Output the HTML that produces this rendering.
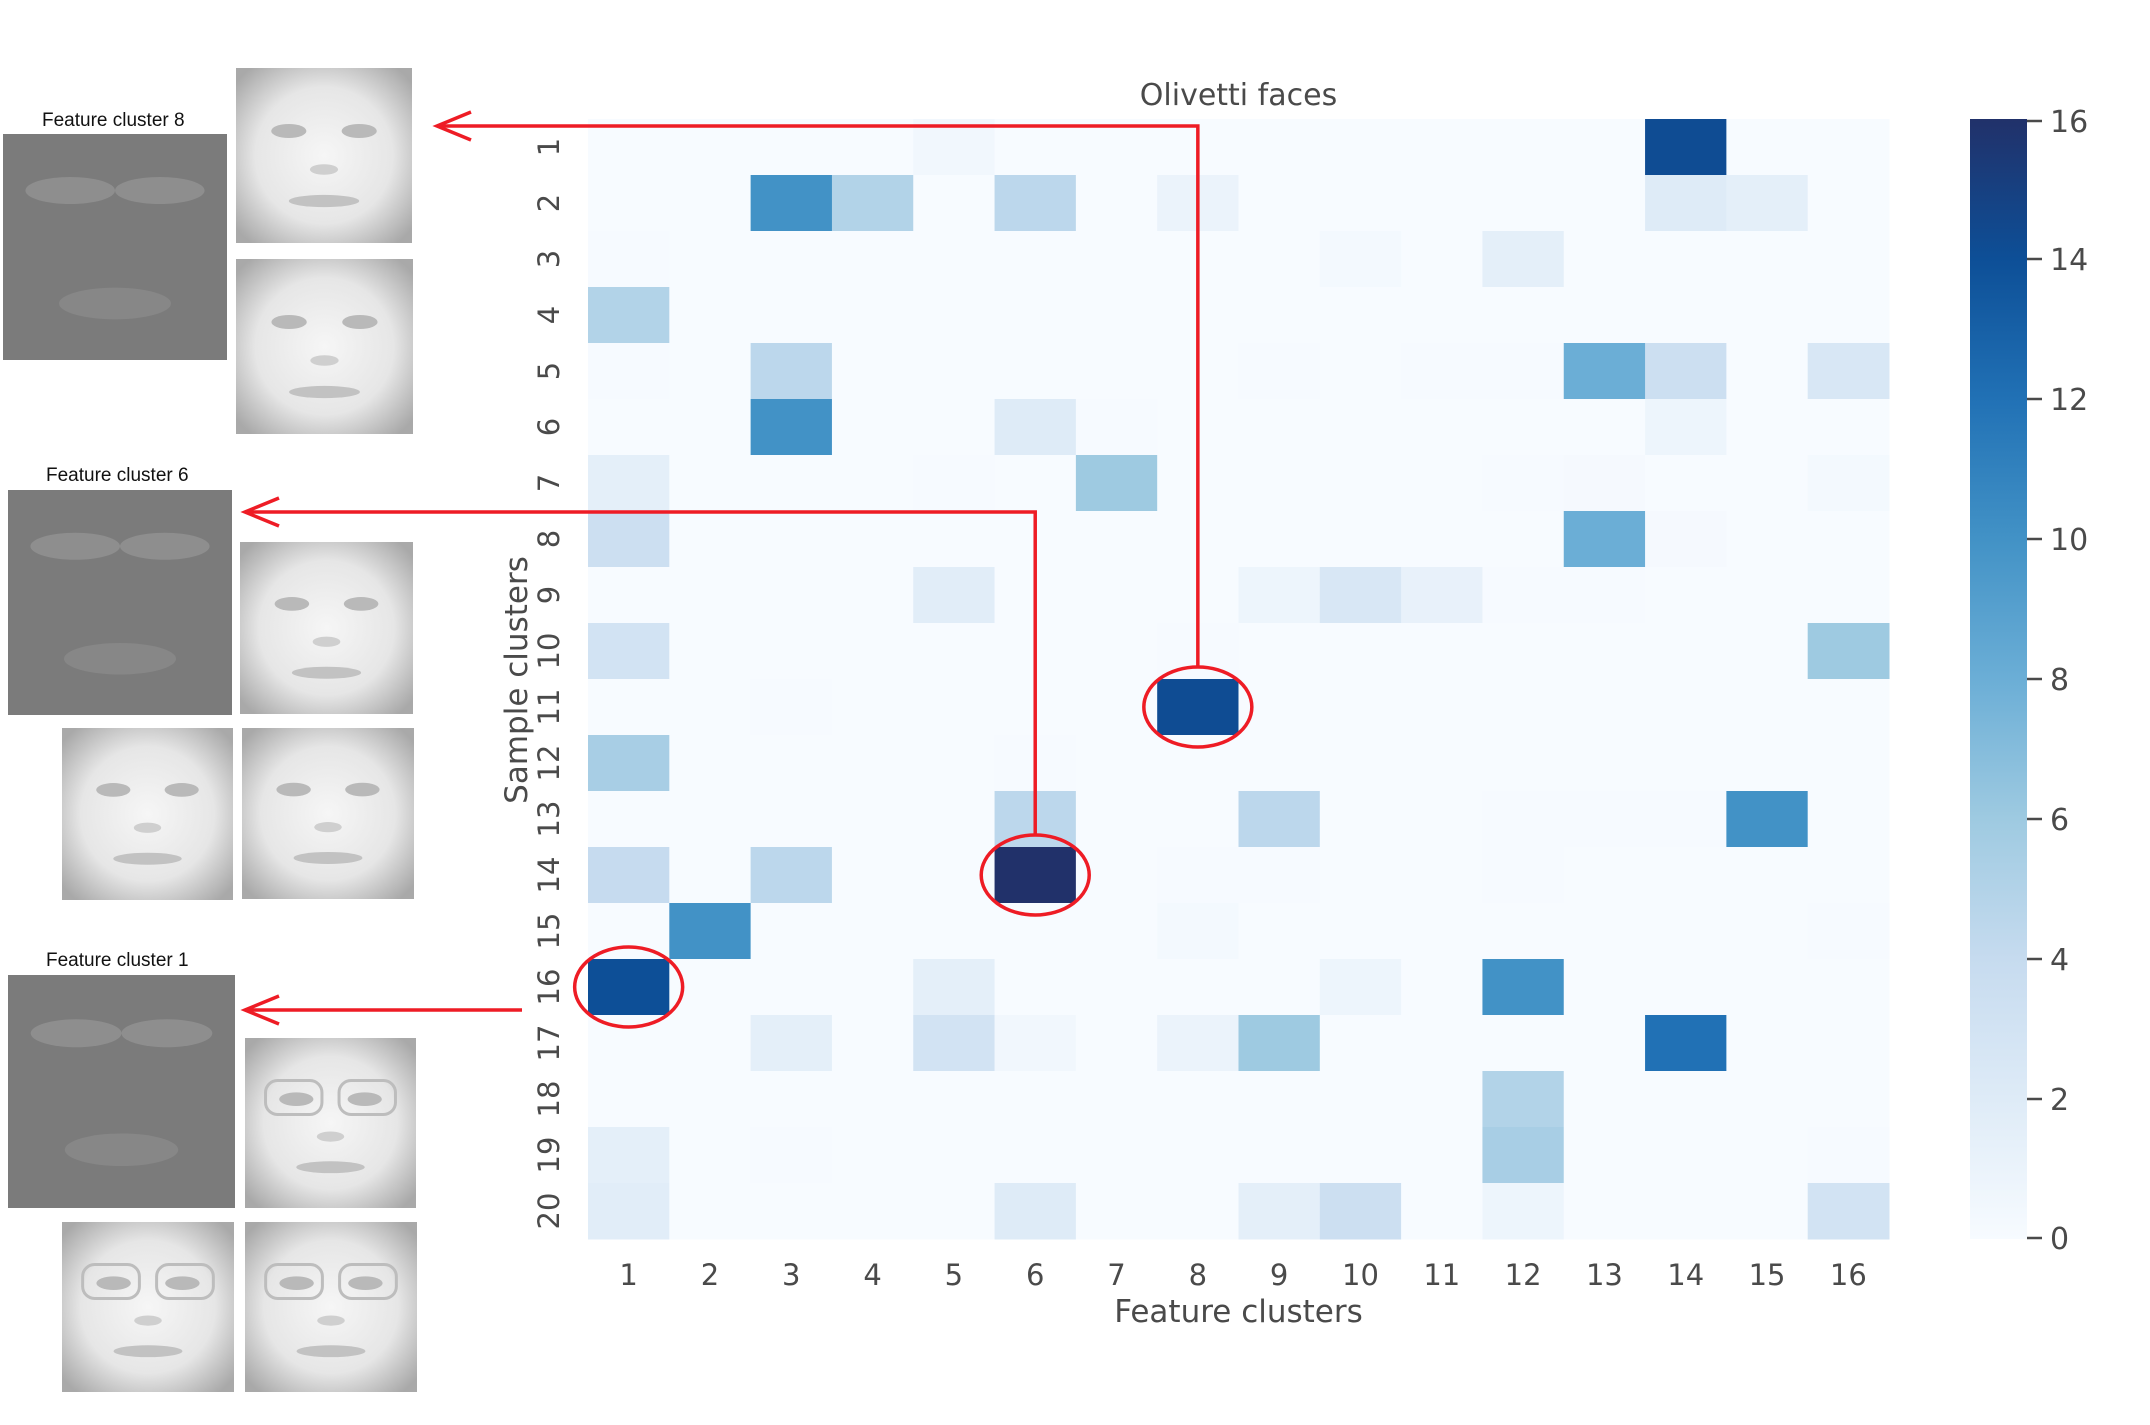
<!DOCTYPE html>
<html><head><meta charset="utf-8"><style>
html,body{margin:0;padding:0;background:#fff;}
svg{display:block;}
text{font-family:"DejaVu Sans","Liberation Sans",sans-serif;fill:#4a4a4a;}
</style></head><body>
<svg id="fig" width="2150" height="1425" viewBox="0 0 2150 1425" xmlns="http://www.w3.org/2000/svg">
<defs>
<radialGradient id="faceG" cx="50%" cy="50%" r="65%">
<stop offset="0" stop-color="#f6f6f6"/><stop offset="0.6" stop-color="#e6e6e6"/><stop offset="1" stop-color="#a9a9a9"/>
</radialGradient>
<linearGradient id="cbG" x1="0" y1="1" x2="0" y2="0">
<stop offset="0" stop-color="#f7fbff"/><stop offset="0.125" stop-color="#deebf7"/><stop offset="0.25" stop-color="#c6dbef"/><stop offset="0.375" stop-color="#9ecae1"/><stop offset="0.5" stop-color="#6baed6"/><stop offset="0.625" stop-color="#4292c6"/><stop offset="0.75" stop-color="#2171b5"/><stop offset="0.875" stop-color="#0d4f97"/><stop offset="1" stop-color="#21316a"/>
</linearGradient>
</defs>
<g id="left"></g>
<g id="heat"></g>
<g id="axes"></g>
<g id="cbar"></g>
<g id="annot"></g>
</svg>
<script>
// ---- chart data ----
const colLabels = ["1","2","3","4","5","6","7","8","9","10","11","12","13","14","15","16"];
const rowLabels = ["1","2","3","4","5","6","7","8","9","10","11","12","13","14","15","16","17","18","19","20"];
const cbTicks = [0,2,4,6,8,10,12,14,16];
const row1  = [0,0,0,0,0.5,0,0,0,0,0,0,0,0,14.2,0,0];
const row2  = [0,0,10,5,0,4.5,0,1,0,0,0,0,0,2,1.5,0];
const row3  = [0.1,0,0,0,0,0,0,0,0,0.3,0,1.5,0,0,0,0];
const row4  = [5,0,0,0,0,0,0,0,0,0,0,0,0,0,0,0];
const row5  = [0.1,0,4.5,0,0,0,0,0,0.1,0,0.1,0.1,8,3.5,0,2.5];
const row6  = [0,0,10,0,0,2,0.1,0,0,0,0,0,0,0.8,0,0];
const row7  = [1.5,0,0,0,0.1,0,6,0,0,0,0,0.1,0.2,0,0,0.3];
const row8  = [3.5,0,0,0,0,0,0,0,0,0,0,0,8,0.2,0,0];
const row9  = [0,0,0,0,1.8,0,0,0,0.8,2.5,1.2,0.1,0.1,0,0,0];
const row10 = [3,0,0,0,0,0,0,0.1,0,0,0,0,0,0,0,6];
const row11 = [0,0,0.1,0,0,0,0,14.2,0,0,0,0,0,0,0,0];
const row12 = [5.5,0,0,0,0,0.1,0,0,0,0,0,0,0,0,0,0];
const row13 = [0,0,0,0,0,4.5,0,0,4.5,0,0,0.1,0.1,0.1,10,0];
const row14 = [4,0,4.5,0,0,16,0,0.1,0.1,0,0,0.1,0,0,0,0];
const row15 = [0,10,0,0,0,0,0,0.3,0,0,0,0,0,0,0,0.1];
const row16 = [14,0,0,0,1.5,0,0,0,0,0.8,0,10,0,0,0,0];
const row17 = [0,0,1.5,0,3,0.5,0,1,6,0,0,0,0,12,0,0];
const row18 = [0,0,0,0,0,0,0,0,0,0,0,5,0,0,0,0];
const row19 = [1.5,0,0.1,0,0,0,0,0,0,0,0,5.5,0,0,0,0.1];
const row20 = [1.8,0,0,0,0,2,0,0,1.5,3.5,0,0.8,0,0,0,3];
const values = [row1,row2,row3,row4,row5,row6,row7,row8,row9,row10,row11,row12,row13,row14,row15,row16,row17,row18,row19,row20];
const vmax = 16;

const NS="http://www.w3.org/2000/svg";
function mk(tag, attrs, parent){const e=document.createElementNS(NS,tag);for(const k in attrs)e.setAttribute(k,attrs[k]);parent.appendChild(e);return e;}
const X0=588,X1=1889,Y0=119,Y1=1239;
const cw=(X1-X0)/colLabels.length, rh=(Y1-Y0)/rowLabels.length;
function xPos(i){return X0+i*cw;}
function yPos(j){return Y0+j*rh;}
function xC(i){return xPos(i)+cw/2;}
function yC(j){return yPos(j)+rh/2;}
const stops=[[247,251,255],[222,235,247],[198,219,239],[158,202,225],[107,174,214],[66,146,198],[33,113,181],[13,79,151],[33,49,106]];
function cmap(v){let t=Math.max(0,Math.min(1,v/vmax))*(stops.length-1);let i=Math.min(Math.floor(t),stops.length-2);let f=t-i;const a=stops[i],b=stops[i+1];return "rgb("+a.map((c,k)=>Math.round(c+(b[k]-c)*f)).join(",")+")";}

const heat=document.getElementById('heat');
values.forEach((row,j)=>row.forEach((v,i)=>{
  const r=mk('rect',{x:xPos(i),y:yPos(j),width:cw+0.5,height:rh+0.5,fill:cmap(v)},heat);
  
  
}));

const axes=document.getElementById('axes');
colLabels.forEach((l,i)=>{
  const t=mk('text',{x:xC(i),y:1285,'font-size':29,'text-anchor':'middle'},axes);t.textContent=l;
  
  
});
rowLabels.forEach((l,j)=>{
  const t=mk('text',{x:0,y:0,'font-size':29,'text-anchor':'middle',transform:'translate(559,'+yC(j)+') rotate(-90)'},axes);t.textContent=l;
  
  
});
let t=mk('text',{x:(X0+X1)/2,y:105,'font-size':30,'text-anchor':'middle'},axes);t.textContent='Olivetti faces';

t=mk('text',{x:(X0+X1)/2,y:1322,'font-size':31,'text-anchor':'middle'},axes);t.textContent='Feature clusters';

t=mk('text',{x:0,y:0,'font-size':31,'text-anchor':'middle',transform:'translate(527,680) rotate(-90)'},axes);t.textContent='Sample clusters';


const cbar=document.getElementById('cbar');
const CB0=1970,CB1=2027;
function cbY(v){return Y1-(v/vmax)*(Y1-Y0);}
let cr=mk('rect',{x:CB0,y:Y0,width:CB1-CB0,height:Y1-Y0,fill:'url(#cbG)'},cbar);

cbTicks.forEach(v=>{
  const y=Math.min(Y1-1,Math.max(Y0+2,cbY(v)));
  const ln=mk('line',{x1:CB1,x2:CB1+15,y1:y,y2:y,stroke:'#4a4a4a','stroke-width':2.5},cbar);
  
  const tx=mk('text',{x:CB1+23,y:y+11,'font-size':30},cbar);tx.textContent=String(v);
  
});

// left panel images
const left=document.getElementById('left');
function face(x,y,w,h,name,glasses){
  const g=mk('g',{},left);
  
  mk('rect',{x:x,y:y,width:w,height:h,fill:'url(#faceG)'},g);
  mk('ellipse',{cx:x+w*0.3,cy:y+h*0.36,rx:w*0.1,ry:h*0.04,fill:'#b9b9b9'},g);
  mk('ellipse',{cx:x+w*0.7,cy:y+h*0.36,rx:w*0.1,ry:h*0.04,fill:'#b9b9b9'},g);
  mk('ellipse',{cx:x+w*0.5,cy:y+h*0.58,rx:w*0.08,ry:h*0.03,fill:'#cfcfcf'},g);
  mk('ellipse',{cx:x+w*0.5,cy:y+h*0.76,rx:w*0.2,ry:h*0.035,fill:'#c2c2c2'},g);
  if(glasses){mk('rect',{x:x+w*0.12,y:y+h*0.25,width:w*0.33,height:h*0.2,rx:12,fill:'none',stroke:'#bdbdbd','stroke-width':3},g);
    mk('rect',{x:x+w*0.55,y:y+h*0.25,width:w*0.33,height:h*0.2,rx:12,fill:'none',stroke:'#bdbdbd','stroke-width':3},g);}
}
function feat(x,y,w,h,name){
  const g=mk('g',{},left);
  
  mk('rect',{x:x,y:y,width:w,height:h,fill:'#7b7b7b'},g);
  mk('ellipse',{cx:x+w*0.3,cy:y+h*0.25,rx:w*0.2,ry:h*0.06,fill:'#8e8e8e'},g);
  mk('ellipse',{cx:x+w*0.7,cy:y+h*0.25,rx:w*0.2,ry:h*0.06,fill:'#8e8e8e'},g);
  mk('ellipse',{cx:x+w*0.5,cy:y+h*0.75,rx:w*0.25,ry:h*0.07,fill:'#878787'},g);
}
function label(x,y,s,name){const e=mk('text',{x:x,y:y,'font-size':19,style:'fill:#111;font-family:"Liberation Sans",sans-serif'},left);e.textContent=s;
  }
label(42,126,'Feature cluster 8','label-feature-cluster-8');
feat(3,134,224,226,'feature-image-8');
face(236,68,176,175,'face-1',false);
face(236,259,177,175,'face-2',false);
label(46,481,'Feature cluster 6','label-feature-cluster-6');
feat(8,490,224,225,'feature-image-6');
face(240,542,173,172,'face-3',false);
face(62,728,171,172,'face-4',false);
face(242,728,172,171,'face-5',false);
label(46,966,'Feature cluster 1','label-feature-cluster-1');
feat(8,975,227,233,'feature-image-1');
face(245,1038,171,170,'face-6',true);
face(62,1222,172,170,'face-7',true);
face(245,1222,172,170,'face-8',true);

// annotations: arrows + ellipses
const an=document.getElementById('annot');
const red='#ee1c25';
function arrow(points,tipX,tipY,name){
  const g=mk('g',{},an);
  
  mk('polyline',{points:points,fill:'none',stroke:red,'stroke-width':3.5},g);
  mk('polyline',{points:(tipX+34)+','+(tipY-14)+' '+tipX+','+tipY+' '+(tipX+34)+','+(tipY+14),fill:'none',stroke:red,'stroke-width':3.5},g);
}
arrow('437,126 '+xC(7)+',126 '+xC(7)+',666',437,126,'arrow-cluster-8');
arrow('245,512 '+xC(5)+',512 '+xC(5)+',834',245,512,'arrow-cluster-6');
arrow('245,1010 522,1010',245,1010,'arrow-cluster-1');
[[7,10,'highlight-r11-c8'],[5,13,'highlight-r14-c6'],[0,15,'highlight-r16-c1']].forEach(a=>{
  const e=mk('ellipse',{cx:xC(a[0]),cy:yC(a[1]),rx:54,ry:40,fill:'none',stroke:red,'stroke-width':3.5},an);
  
});
</script>
</body></html>
